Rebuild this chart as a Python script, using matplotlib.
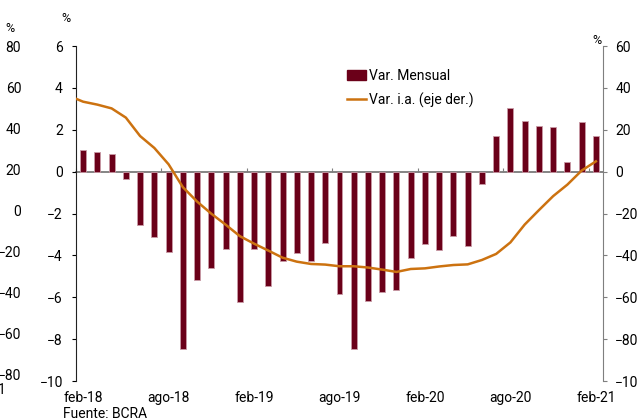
import matplotlib.pyplot as plt
import matplotlib.transforms as mtransforms
from matplotlib.patches import Patch
from matplotlib.lines import Line2D
import numpy as np

plt.rcParams['font.family'] = ['Roboto', 'DejaVu Sans']
plt.rcParams['font.size'] = 10

# monthly variation (left axis, %), feb-18 .. feb-21
mensual = [1.02, 0.94, 0.86, -0.33, -2.56, -3.12, -3.82, -8.48, -5.17, -4.62,
           -3.71, -6.22, -3.71, -5.46, -4.27, -3.90, -4.25, -3.41, -5.86, -8.47,
           -6.19, -5.75, -5.67, -4.11, -3.47, -3.74, -3.06, -3.57, -0.57, 1.70,
           3.06, 2.40, 2.17, 2.12, 0.46, 2.35, 1.68]
# year-on-year variation (right axis, %): start of period, then one value per month
ia = [34.8, 33.4, 32.0, 30.2, 25.8, 17.0, 11.3, 3.5, -7.4, -14.3, -20.1,
      -25.3, -30.8, -34.4, -37.7, -41.1, -43.0, -44.1, -44.4, -45.2, -45.2,
      -45.8, -46.8, -47.9, -46.5, -46.2, -45.3, -44.6, -44.3, -42.2, -39.3,
      -33.8, -25.3, -18.4, -11.7, -6.2, 0.5, 4.9]
tick_labels = ['feb-18', 'ago-18', 'feb-19', 'ago-19', 'feb-20', 'ago-20', 'feb-21']

W, H = 637, 419
fig = plt.figure(figsize=(W / 100, H / 100), dpi=100)
pos = [76 / W, 1 - 381 / H, (603 - 76) / W, (381 - 46) / H]

bar_col = '#6b0019'
line_col = '#cc7210'
grey = '#7f7f7f'

# outer left scale (labels only)
ax3 = fig.add_axes(pos, frameon=False)
ax3.set_ylim(-83.4, 79.0)
ax3.set_yticks(np.arange(-80, 81, 20))
ax3.tick_params(axis='y', length=0, pad=39.5, labelsize=10)
ax3.set_xticks([])

ax = fig.add_axes(pos)
ax.patch.set_visible(False)
x = np.arange(len(mensual))
ax.bar(x, mensual, width=0.42, color=bar_col, edgecolor='#c99aa6', linewidth=0.6, zorder=2)
ax.set_ylim(-10, 6)
ax.set_yticks(np.arange(-10, 7, 2))
ax.set_xlim(-0.5, len(mensual) - 0.5)
ax.spines['top'].set_visible(False)
ax.spines['right'].set_visible(False)
ax.spines['left'].set_color('#222222')
ax.spines['bottom'].set_position(('data', 0))
ax.spines['bottom'].set_color('#6f6f6f')
ax.spines['bottom'].set_linewidth(1.2)
ax.spines['bottom'].set_zorder(1)
ax.set_xticks(np.arange(-0.5, len(mensual) - 1, 6))
ax.tick_params(axis='x', direction='in', length=3, color=grey, labelbottom=False)
ax.tick_params(axis='y', direction='out', length=3, pad=6.5, labelsize=10)

trans = mtransforms.blended_transform_factory(ax.transData, ax.transAxes)
for i, lab in enumerate(tick_labels):
    ax.text(i * 6, -0.051, lab, transform=trans, ha='center', va='center', fontsize=10)

ax2 = ax.twinx()
ax2.set_position(pos)
line_x = np.concatenate([[-0.5], np.arange(len(ia) - 1)])
ax2.plot(line_x, ia, color=line_col, linewidth=1.8, zorder=3)
ax2.set_ylim(-100, 60)
ax2.set_yticks(np.arange(-100, 61, 20))
ax2.spines['top'].set_visible(False)
ax2.spines['bottom'].set_visible(False)
ax2.spines['left'].set_visible(False)
ax2.spines['right'].set_color(grey)
ax2.tick_params(axis='y', direction='out', length=3, color=grey, pad=5.8, labelsize=10)

handles = [Patch(facecolor=bar_col, edgecolor=bar_col),
           Line2D([0], [0], color=line_col, linewidth=1.8)]
ax2.legend(handles, ['Var. Mensual', 'Var. i.a. (eje der.)'], loc='upper left',
           bbox_to_anchor=(0.49, 0.97), frameon=False, fontsize=10,
           handlelength=1.4, handleheight=0.7, handletextpad=0.2, labelspacing=0.7)

fig.text(5 / W, 1 - 28 / H, '%', ha='left', va='center', fontsize=9)
fig.text(61 / W, 1 - 19 / H, '%', ha='left', va='center', fontsize=9)
fig.text(597 / W, 1 - 40 / H, '%', ha='center', va='center', fontsize=9)
fig.text(-2 / W, 1 - 390 / H, '1', ha='left', va='center', fontsize=10)
fig.text(63 / W, 1 - 414 / H, 'Fuente: BCRA', ha='left', va='center', fontsize=10)

fig.savefig('out.png', dpi=100)
